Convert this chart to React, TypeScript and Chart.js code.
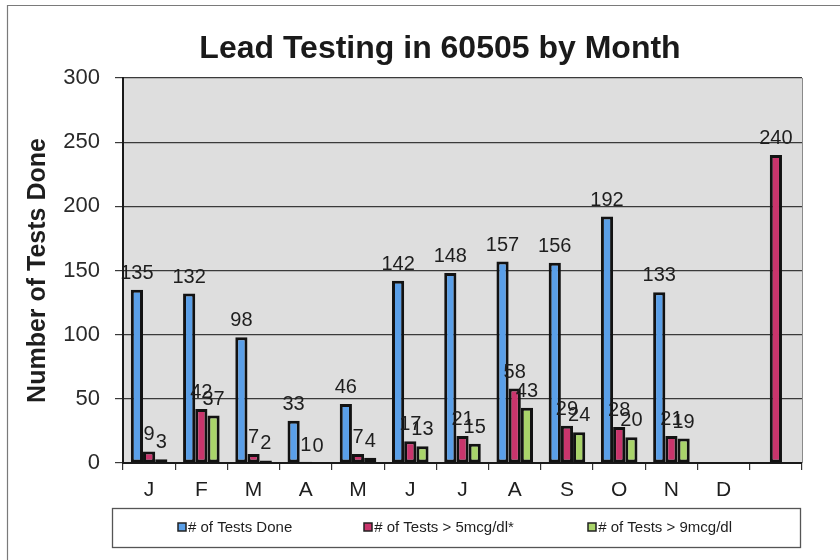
import { useEffect, useRef } from "react";
import { Chart, registerables } from "chart.js";

Chart.register(...registerables);

const chartTitle = "Lead Testing in 60505 by Month";
const yAxisTitle = "Number of Tests Done";
const months = ["J", "F", "M", "A", "M", "J", "J", "A", "S", "O", "N", "D", ""];
const testsDone = [135, 132, 98, 33, 46, 142, 148, 157, 156, 192, 133, null, null];
const testsOver5 = [9, 42, 7, 1, 7, 17, 21, 58, 29, 28, 21, null, 240];
const testsOver9 = [3, 37, 2, 0, 4, 13, 15, 43, 24, 20, 19, null, null];
const seriesNames = ["# of Tests Done", "# of Tests > 5mcg/dl*", "# of Tests > 9mcg/dl"];
const seriesColors = ["#5a9fe8", "#c9356c", "#a9d46a"];
const yMax = 300;
const yStep = 50;

const FONT = "'Liberation Sans', Arial, sans-serif";

const decorPlugin = {
  id: "decor",
  beforeDraw(chart: any) {
    const { ctx, chartArea: a, width, height } = chart;
    ctx.save();
    ctx.fillStyle = "#ffffff";
    ctx.fillRect(0, 0, width, height);
    ctx.fillStyle = "#dedede";
    ctx.fillRect(a.left, a.top, a.right - a.left, a.bottom - a.top);
    ctx.restore();
  },
  afterDatasetsDraw(chart: any) {
    const { ctx } = chart;
    ctx.save();
    ctx.font = `20px ${FONT}`;
    ctx.fillStyle = "#1e1e1e";
    ctx.textAlign = "center";
    ctx.textBaseline = "alphabetic";
    chart.data.datasets.forEach((ds: any, i: number) => {
      const meta = chart.getDatasetMeta(i);
      meta.data.forEach((el: any, j: number) => {
        const v = ds.data[j];
        if (v === null || v === undefined) return;
        ctx.fillText(String(v), el.x, el.y - 11);
      });
    });
    ctx.restore();
  },
  afterDraw(chart: any) {
    const { ctx, chartArea: a } = chart;
    ctx.save();
    // plot right edge
    ctx.strokeStyle = "#8a8a8a";
    ctx.lineWidth = 1;
    ctx.beginPath();
    ctx.moveTo(a.right + 0.5, a.top);
    ctx.lineTo(a.right + 0.5, a.bottom);
    ctx.stroke();
    // outer frame (top and left)
    ctx.strokeStyle = "#7a7a7a";
    ctx.lineWidth = 1.2;
    ctx.beginPath();
    ctx.moveTo(7.5, 560);
    ctx.lineTo(7.5, 5.5);
    ctx.lineTo(840, 5.5);
    ctx.stroke();
    // title
    ctx.fillStyle = "#1a1a1a";
    ctx.font = `bold 32px ${FONT}`;
    ctx.textAlign = "center";
    ctx.textBaseline = "alphabetic";
    ctx.fillText(chartTitle, 440, 58);
    // legend box
    ctx.strokeStyle = "#555555";
    ctx.lineWidth = 1.3;
    ctx.strokeRect(112.5, 508.5, 688, 39);
    const markerX = [178, 364, 588];
    const textX = [188, 374, 598];
    ctx.font = `15px ${FONT}`;
    ctx.textAlign = "left";
    ctx.textBaseline = "middle";
    chart.data.datasets.forEach((ds: any, i: number) => {
      ctx.fillStyle = ds.backgroundColor;
      ctx.fillRect(markerX[i], 523, 8, 8);
      ctx.strokeStyle = "#222";
      ctx.lineWidth = 1.5;
      ctx.strokeRect(markerX[i], 523, 8, 8);
      ctx.fillStyle = "#1e1e1e";
      ctx.fillText((i === 0 ? "" : " ") + ds.label, textX[i] - (i === 0 ? 0 : 4), 528);
    });
    ctx.restore();
  },
};

export default function App() {
  const ref = useRef<HTMLCanvasElement | null>(null);
  useEffect(() => {
    if (!ref.current) return;
    const datasets = [testsDone, testsOver5, testsOver9].map((d, i) => ({
      label: seriesNames[i],
      data: d,
      backgroundColor: seriesColors[i],
      borderColor: "#121212",
      borderWidth: 3,
      borderSkipped: false as any,
      categoryPercentage: 0.7,
      barPercentage: 1.0,
    }));
    const chart = new Chart(ref.current, {
      type: "bar",
      data: { labels: months, datasets },
      plugins: [decorPlugin],
      options: {
        animation: false,
        responsive: false,
        layout: { padding: { left: 8, top: 78, right: 38, bottom: 0 } },
        plugins: {
          legend: { display: false },
          title: { display: false },
          tooltip: { enabled: false },
        },
        scales: {
          x: {
            offset: true,
            grid: {
              display: true,
              drawOnChartArea: false,
              offset: true,
              tickLength: 7,
              color: "#333",
              lineWidth: 1.2,
            },
            border: { display: true, color: "#1a1a1a", width: 2 },
            ticks: { font: { family: FONT, size: 21 }, color: "#1e1e1e", padding: 8 },
            afterFit: (s: any) => {
              s.height = 97;
            },
          },
          y: {
            min: 0,
            max: yMax,
            ticks: { stepSize: yStep, font: { family: FONT, size: 22 }, color: "#2a2a2a", padding: 15 },
            grid: { color: "#3a3a3a", lineWidth: 1.2, tickLength: 8 },
            border: { display: true, color: "#1a1a1a", width: 2 },
            title: {
              display: true,
              text: yAxisTitle,
              font: { family: FONT, size: 25, weight: "bold" },
              color: "#1e1e1e",
              padding: { top: 15, bottom: 0 },
            },
            afterFit: (s: any) => {
              s.width = 115;
            },
          },
        },
      },
    });
    return () => chart.destroy();
  }, []);
  return (
    <div style={{ position: "fixed", left: 0, top: 0, width: 840, height: 560, background: "#fff" }}>
      <canvas ref={ref} width={840} height={560} style={{ display: "block", width: 840, height: 560 }} />
    </div>
  );
}
